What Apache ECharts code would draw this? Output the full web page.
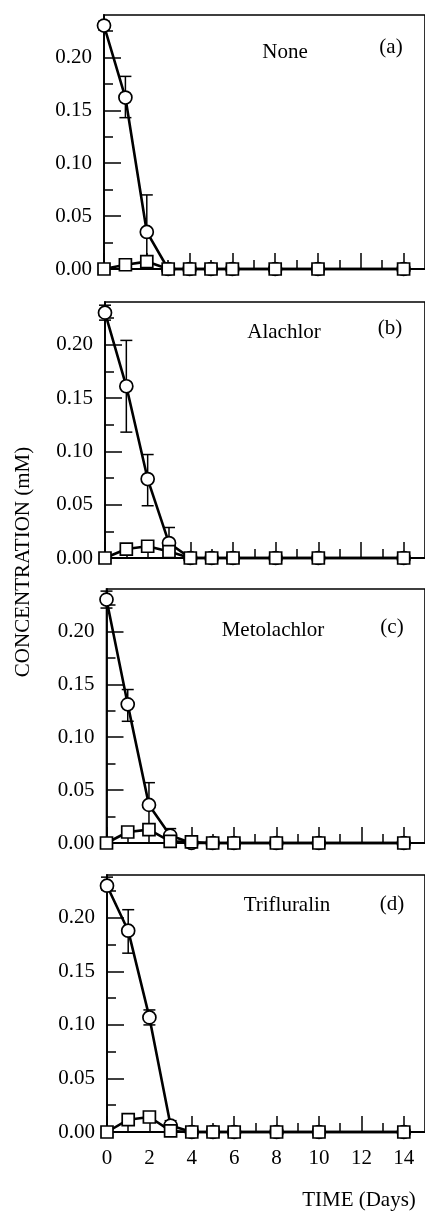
<!DOCTYPE html>
<html>
<head>
<meta charset="utf-8">
<script src="https://cdn.jsdelivr.net/npm/echarts@6/dist/echarts.min.js"></script>
<style>
  html, body { margin: 0; padding: 0; background: #fff; }
  #chart { width: 425px; height: 1211px; }
</style>
</head>
<body>
<div id="chart"></div>
<script>
// sampling days
const DAYS = [0, 1, 2, 3, 4, 5, 6, 8, 10, 14];

// circles (parent compound), one array per panel
const CIRCLE_NONE = [0.23, 0.162, 0.035, 0, 0, 0, 0, 0, 0, 0];
const CIRCLE_ALACHLOR = [0.23, 0.161, 0.074, 0.014, 0, 0, 0, 0, 0, 0];
const CIRCLE_METOLACHLOR = [0.23, 0.131, 0.036, 0.007, 0, 0, 0, 0, 0, 0];
const CIRCLE_TRIFLURALIN = [0.23, 0.188, 0.107, 0.006, 0, 0, 0, 0, 0, 0];

// squares
const SQUARE_NONE = [0, 0.004, 0.007, 0, 0, 0, 0, 0, 0, 0];
const SQUARE_ALACHLOR = [0, 0.0084, 0.011, 0.006, 0, 0, 0, 0, 0, 0];
const SQUARE_METOLACHLOR = [0, 0.0104, 0.0126, 0.0016, 0.001, 0, 0, 0, 0, 0];
const SQUARE_TRIFLURALIN = [0, 0.0115, 0.014, 0.001, 0, 0, 0, 0, 0, 0];

// error bars: [day, low, high]
const ERR_CIRCLE_NONE = [[0, 0.226, 0.234], [1, 0.143, 0.182], [2, 0.0, 0.070]];
const ERR_CIRCLE_ALACHLOR = [[0, 0.223, 0.237], [1, 0.118, 0.204], [2, 0.049, 0.097], [3, 0.0, 0.0286]];
const ERR_CIRCLE_METOLACHLOR = [[0, 0.222, 0.238], [1, 0.115, 0.145], [2, 0.015, 0.057], [3, 0.0, 0.0136]];
const ERR_CIRCLE_TRIFLURALIN = [[0, 0.226, 0.238], [1, 0.167, 0.2076], [2, 0.100, 0.114], [3, 0.0, 0.0106]];
const ERR_SQUARE_ALACHLOR = [[1, 0.004, 0.012], [2, 0.006, 0.016], [3, 0.003, 0.009]];
const ERR_SQUARE_METOLACHLOR = [[1, 0.006, 0.015], [2, 0.008, 0.018]];
const ERR_SQUARE_TRIFLURALIN = [[1, 0.007, 0.016], [2, 0.010, 0.018]];

const PANEL_NAMES = ['None', 'Alachlor', 'Metolachlor', 'Trifluralin'];
const PANEL_TAGS = ['(a)', '(b)', '(c)', '(d)'];

// tick labels
const X_MAJOR = [0, 2, 4, 6, 8, 10, 12, 14];
const X_MINOR = [1, 3, 5, 7, 9, 11, 13];
const Y_MAJOR = [0, 0.05, 0.1, 0.15, 0.2];
const Y_MINOR = [0.025, 0.075, 0.125, 0.175, 0.225];

const circles = [CIRCLE_NONE, CIRCLE_ALACHLOR, CIRCLE_METOLACHLOR, CIRCLE_TRIFLURALIN];
const squares = [SQUARE_NONE, SQUARE_ALACHLOR, SQUARE_METOLACHLOR, SQUARE_TRIFLURALIN];
const errCircles = [ERR_CIRCLE_NONE, ERR_CIRCLE_ALACHLOR, ERR_CIRCLE_METOLACHLOR, ERR_CIRCLE_TRIFLURALIN];
const errSquares = [[], ERR_SQUARE_ALACHLOR, ERR_SQUARE_METOLACHLOR, ERR_SQUARE_TRIFLURALIN];

// panel frames (scan is a bit skewed, so lefts differ)
const frames = [
  { left: 104, top: 15, height: 254 },
  { left: 105, top: 302, height: 256 },
  { left: 106.5, top: 589, height: 254 },
  { left: 107, top: 875, height: 257 },
];
// label positions for the panel names and tags
const nameXY = [[285, 52], [284, 332], [273, 630], [287, 905]];
const tagXY = [[391, 47], [390, 328], [392, 627], [392, 904]];

const FONT = '"Liberation Serif", "DejaVu Serif", serif';
const BLACK = '#000';

const pair = (arr) => DAYS.map((d, i) => [d, arr[i]]);

function renderErr(params, api) {
  const x = api.value(0);
  const lo = api.value(1);
  const hi = api.value(2);
  const top = api.coord([x, hi]);
  const bot = api.coord([x, lo]);
  const hw = 6;
  const style = { stroke: BLACK, lineWidth: 1.5 };
  return {
    type: 'group',
    children: [
      { type: 'line', shape: { x1: top[0], y1: top[1], x2: bot[0], y2: bot[1] }, style },
      { type: 'line', shape: { x1: top[0] - hw, y1: top[1], x2: top[0] + hw, y2: top[1] }, style },
      { type: 'line', shape: { x1: bot[0] - hw, y1: bot[1], x2: bot[0] + hw, y2: bot[1] }, style },
    ],
  };
}

const grid = [];
const xAxis = [];
const yAxis = [];
const series = [];

frames.forEach((f, i) => {
  grid.push({
    left: f.left,
    top: f.top,
    width: 425 - f.left,
    height: f.height,
    show: true,
    borderColor: BLACK,
    borderWidth: 1.6,
    backgroundColor: 'transparent',
  });

  // major x ticks + labels
  xAxis.push({
    type: 'value',
    gridIndex: i,
    min: 0,
    max: 15,
    position: 'bottom',
    axisLine: { show: true, onZero: false, lineStyle: { color: BLACK, width: 1.8 } },
    axisTick: { show: true, inside: true, length: 16, customValues: X_MAJOR, lineStyle: { color: BLACK, width: 1.5 } },
    axisLabel: {
      show: i === 3,
      customValues: X_MAJOR,
      margin: 16,
      color: BLACK,
      fontFamily: FONT,
      fontSize: 21,
    },
    splitLine: { show: false },
  });
  // minor x ticks
  xAxis.push({
    type: 'value',
    gridIndex: i,
    min: 0,
    max: 15,
    position: 'bottom',
    axisLine: { show: false },
    axisTick: { show: true, inside: true, length: 9, customValues: X_MINOR, lineStyle: { color: BLACK, width: 1.5 } },
    axisLabel: { show: false },
    splitLine: { show: false },
  });

  // major y ticks + labels
  yAxis.push({
    type: 'value',
    gridIndex: i,
    min: 0,
    max: 0.24,
    position: 'left',
    axisLine: { show: true, onZero: false, lineStyle: { color: BLACK, width: 1.8 } },
    axisTick: { show: true, inside: true, length: 17, customValues: Y_MAJOR, lineStyle: { color: BLACK, width: 1.5 } },
    axisLabel: {
      customValues: Y_MAJOR,
      formatter: (v) => v.toFixed(2),
      margin: 12,
      color: BLACK,
      fontFamily: FONT,
      fontSize: 21,
    },
    splitLine: { show: false },
  });
  // minor y ticks
  yAxis.push({
    type: 'value',
    gridIndex: i,
    min: 0,
    max: 0.24,
    position: 'left',
    axisLine: { show: false },
    axisTick: { show: true, inside: true, length: 9, customValues: Y_MINOR, lineStyle: { color: BLACK, width: 1.5 } },
    axisLabel: { show: false },
    splitLine: { show: false },
  });

  const xi = i * 2;
  const yi = i * 2;

  series.push({
    type: 'custom',
    xAxisIndex: xi,
    yAxisIndex: yi,
    renderItem: renderErr,
    encode: { x: 0, y: [1, 2] },
    data: errCircles[i],
    clip: false,
    z: 1,
  });
  series.push({
    type: 'custom',
    xAxisIndex: xi,
    yAxisIndex: yi,
    renderItem: renderErr,
    encode: { x: 0, y: [1, 2] },
    data: errSquares[i],
    clip: false,
    z: 1,
  });
  series.push({
    type: 'line',
    xAxisIndex: xi,
    yAxisIndex: yi,
    data: pair(circles[i]),
    symbol: 'circle',
    symbolSize: 13,
    showAllSymbol: true,
    clip: false,
    lineStyle: { color: BLACK, width: 2.6 },
    itemStyle: { color: '#fff', borderColor: BLACK, borderWidth: 1.7 },
    z: 3,
  });
  series.push({
    type: 'line',
    xAxisIndex: xi,
    yAxisIndex: yi,
    data: pair(squares[i]),
    symbol: 'rect',
    symbolSize: 12,
    showAllSymbol: true,
    clip: false,
    lineStyle: { color: BLACK, width: 2.6 },
    itemStyle: { color: '#fff', borderColor: BLACK, borderWidth: 1.7 },
    z: 4,
  });
});

const textStyle = (text, x, y, extra) => ({
  type: 'text',
  x,
  y,
  style: Object.assign({
    text,
    fill: BLACK,
    font: '21px ' + FONT,
    textAlign: 'center',
    textVerticalAlign: 'middle',
  }, extra || {}),
});

const graphic = [];
PANEL_NAMES.forEach((name, i) => {
  graphic.push(textStyle(name, nameXY[i][0], nameXY[i][1]));
  graphic.push(textStyle(PANEL_TAGS[i], tagXY[i][0], tagXY[i][1]));
});
graphic.push(textStyle('TIME (Days)', 359, 1200));
graphic.push(Object.assign(textStyle('CONCENTRATION (mM)', 0, 0), { x: 23, y: 562, rotation: Math.PI / 2 }));

const chart = echarts.init(document.getElementById('chart'), null, { renderer: 'canvas' });
chart.setOption({
  animation: false,
  backgroundColor: '#fff',
  grid,
  xAxis,
  yAxis,
  series,
  graphic,
});
</script>
</body>
</html>
